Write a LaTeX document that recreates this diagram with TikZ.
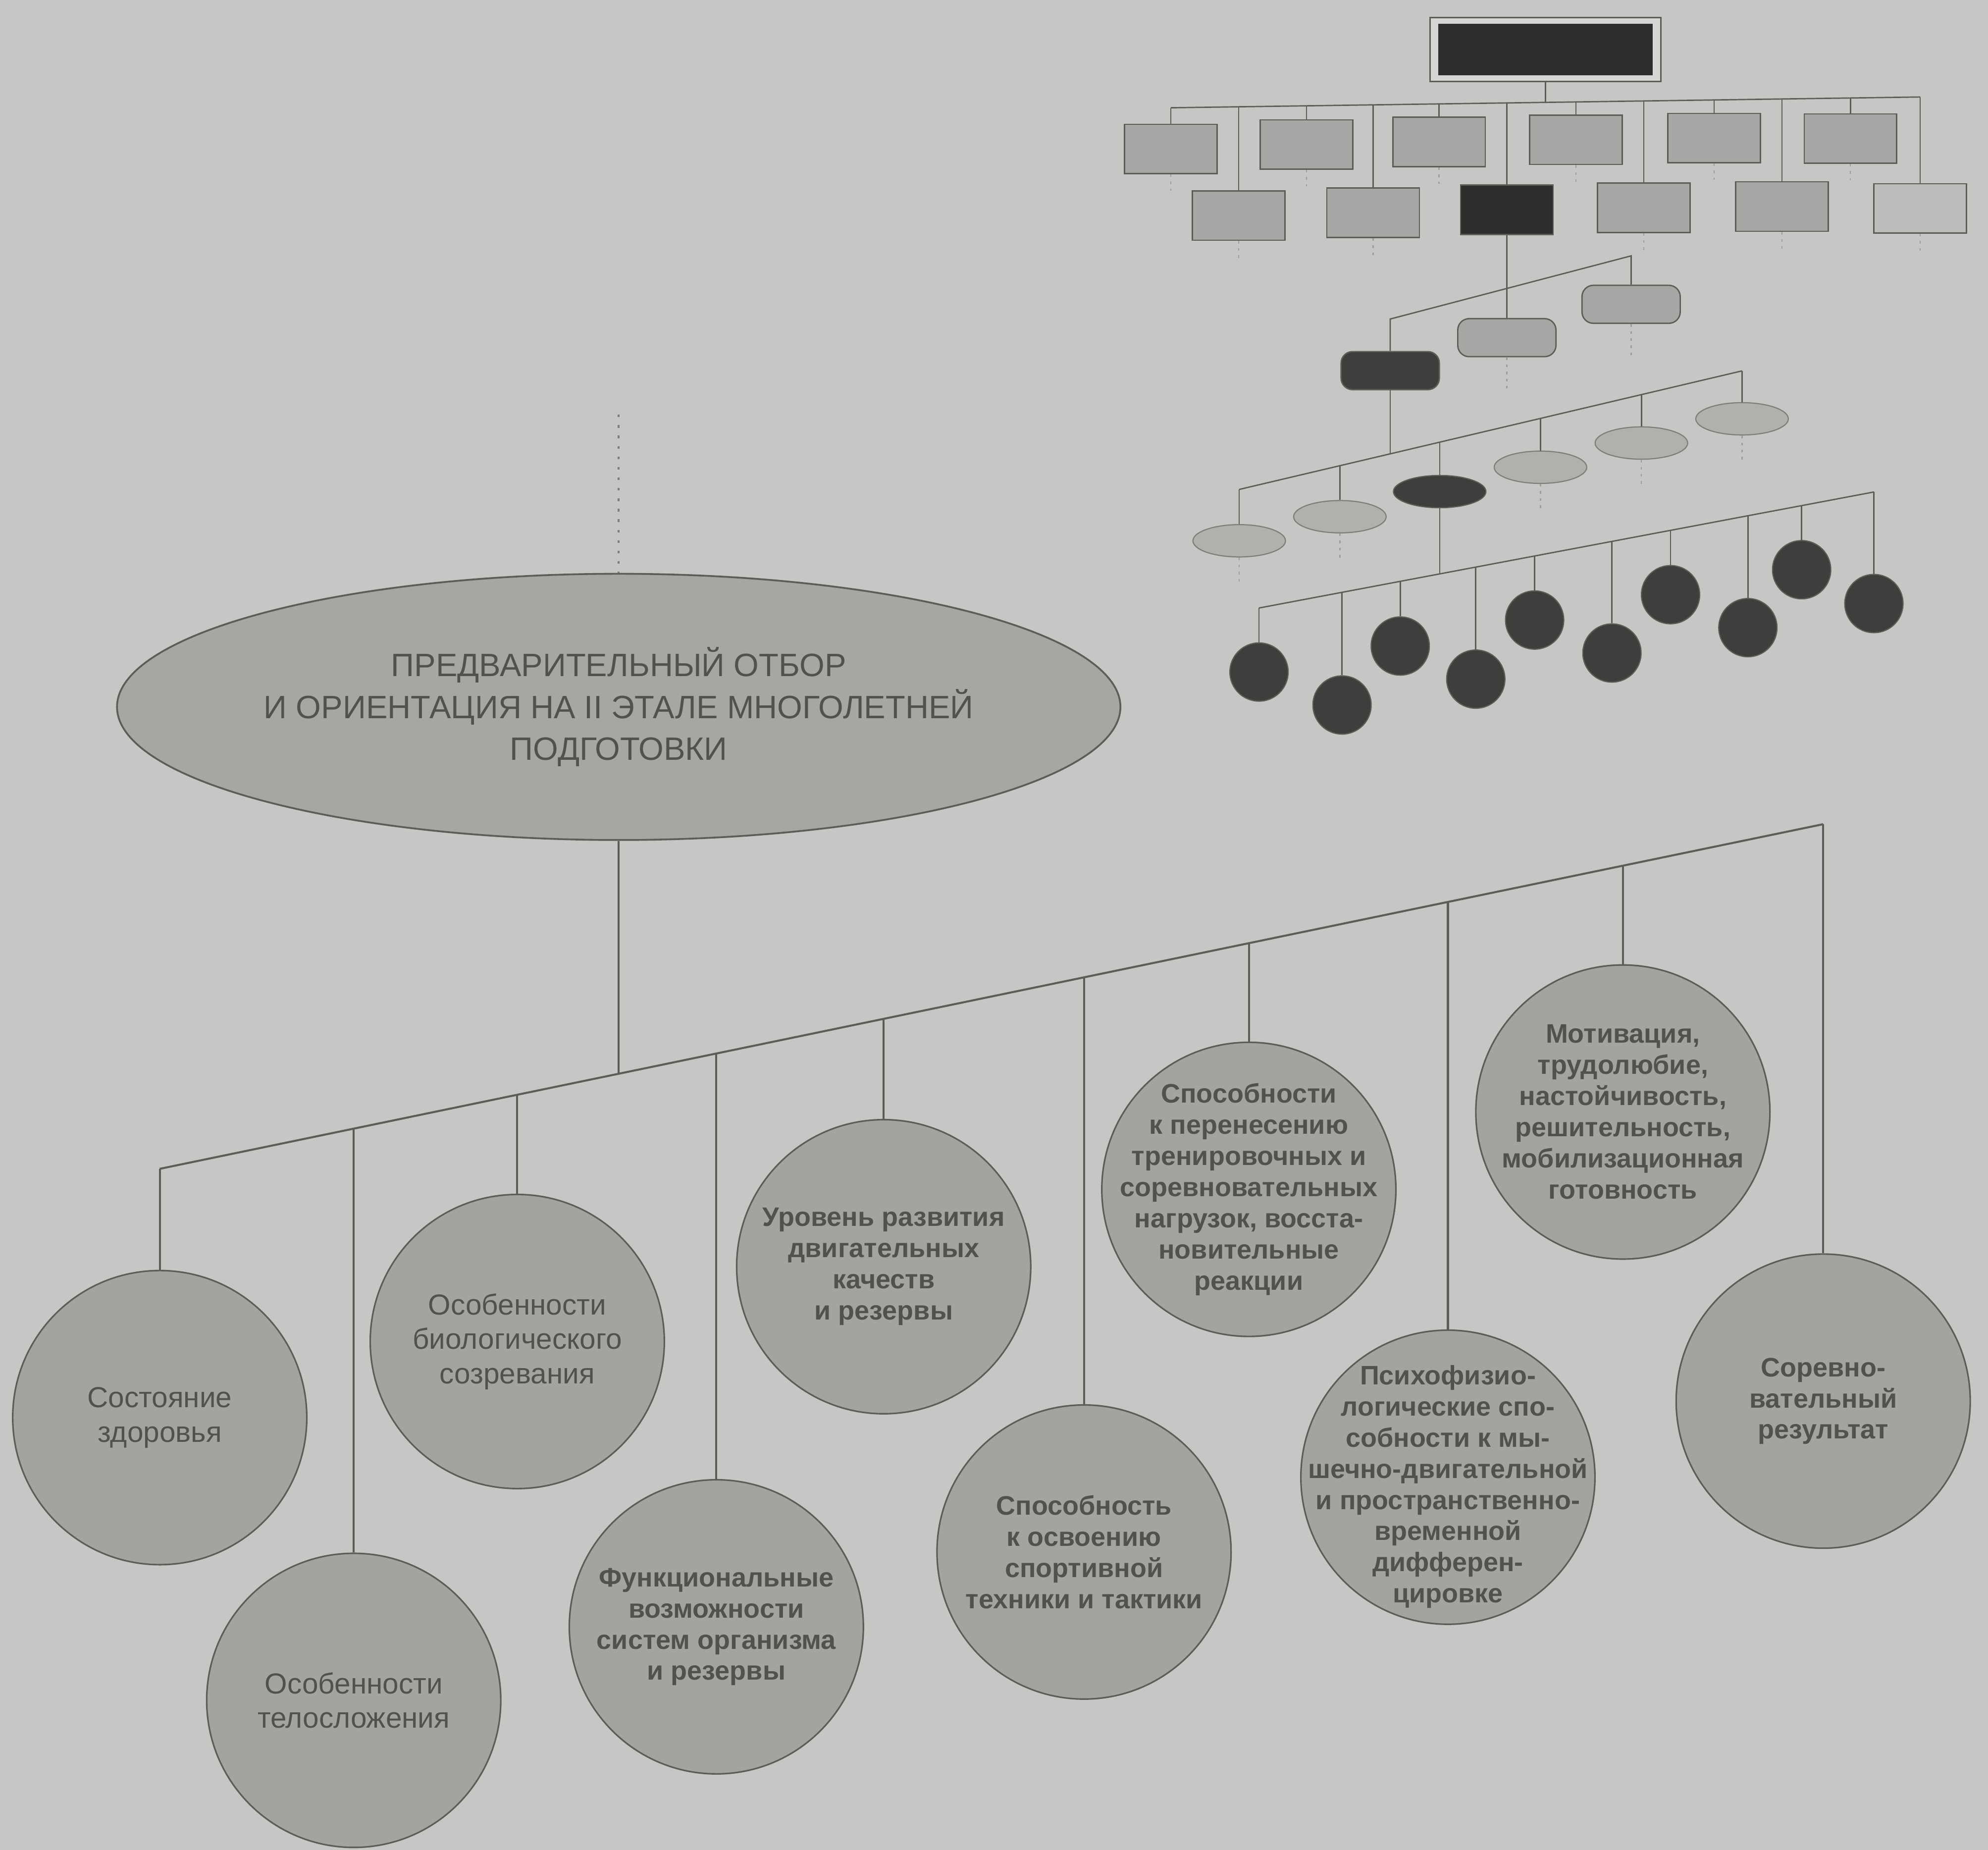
\documentclass[tikz,border=0pt]{standalone}
\usepackage{fontspec}
\setmainfont{Liberation Sans}
\usetikzlibrary{shapes.geometric}
\definecolor{bgc}{HTML}{C6C7C4}
\definecolor{edgec}{HTML}{5C5C58}
\definecolor{txt}{HTML}{52524D}
\definecolor{circf}{HTML}{A3A3A0}
\definecolor{mainf}{HTML}{A6A6A2}
\definecolor{boxf}{HTML}{A6A6A4}
\definecolor{ellf}{HTML}{B0B0AD}
\definecolor{darkf}{HTML}{2E2E2D}
\definecolor{darkf2}{HTML}{3E3E3C}
\definecolor{framef}{HTML}{D6D6D4}
\begin{document}
\begin{tikzpicture}[x=0.02cm,y=-0.02cm,
  conn/.style={draw=edgec,line width=0.9pt},
  tconn/.style={draw=edgec,line width=0.6pt},
  stub/.style={draw=edgec!60,line width=0.5pt,dash pattern=on 1.2pt off 2pt},
  dline/.style={draw=edgec!80,line width=0.8pt,dash pattern=on 1.2pt off 3.5pt},
  bigc/.style={circle,draw=edgec,line width=0.7pt,fill=circf,minimum size=4.64cm,inner sep=0pt},
  ctb/.style={align=center,text=txt,inner sep=0pt,font=\fontsize{12}{14}\selectfont\bfseries},
  ctr/.style={ctb,font=\fontsize{13}{15.5}\selectfont},
  mainell/.style={ellipse,draw=edgec,line width=0.8pt,fill=mainf,minimum width=13.04cm,minimum height=4.2cm,inner sep=0pt,align=center,text=txt,font=\fontsize{14.5}{18.8}\selectfont},
  rbox/.style={rectangle,draw=edgec,line width=0.6pt,fill=boxf,minimum width=1.46cm,minimum height=0.78cm,inner sep=0pt},
  dbox/.style={rbox,fill=darkf},
  rrl/.style={rectangle,rounded corners=0.18cm,draw=edgec,line width=0.6pt,fill=boxf,minimum width=1.55cm,minimum height=0.6cm,inner sep=0pt},
  rrd/.style={rrl,fill=darkf2},
  ell/.style={ellipse,draw=edgec!80,line width=0.5pt,fill=ellf,minimum width=1.46cm,minimum height=0.51cm,inner sep=0pt},
  elld/.style={ell,draw=edgec,fill=darkf2},
  dkc/.style={circle,draw=edgec,line width=0.5pt,fill=darkf2,minimum size=0.92cm,inner sep=0pt}]
\fill[bgc] (0,0) rectangle (1568,1459);
\useasboundingbox (0,0) rectangle (1568,1459);

% ---------------- top-right hierarchy ----------------
\node[rectangle,draw=edgec,line width=0.7pt,fill=framef,minimum width=3.64cm,minimum height=1.01cm,inner sep=0pt] (top) at (1219,39) {};
\node[rectangle,fill=darkf,minimum width=3.38cm,minimum height=0.81cm,inner sep=0pt] (topin) at (1219,39) {};

\coordinate (ba1) at (923.5,85);
\coordinate (ba12) at (1514.5,76.5);
\coordinate (bat) at (1219,80.75);
\draw[tconn] (ba1) -- (ba12);
\draw[tconn] (top) -- (bat);

\node[rbox] (r11) at (923.5,117.5) {};
\node[rbox] (r12) at (1030.5,114) {};
\node[rbox] (r13) at (1135,112) {};
\node[rbox] (r14) at (1243,110.2) {};
\node[rbox] (r15) at (1352,108.9) {};
\node[rbox] (r16) at (1459.5,109.3) {};
\node[rbox] (r21) at (977,170) {};
\node[rbox] (r22) at (1083,167.8) {};
\node[dbox] (r23) at (1188.5,165.4) {};
\node[rbox] (r24) at (1296.5,163.8) {};
\node[rbox] (r25) at (1405.5,162.9) {};
\node[rbox,fill=boxf!75!white] (r26) at (1514.5,164.4) {};

\coordinate (ba2) at (977,84.23);
\coordinate (ba3) at (1030.5,83.46);
\coordinate (ba4) at (1083,82.71);
\coordinate (ba5) at (1135,81.96);
\coordinate (ba6) at (1188.5,81.19);
\coordinate (ba7) at (1243,80.41);
\coordinate (ba8) at (1296.5,79.64);
\coordinate (ba9) at (1352,78.84);
\coordinate (ba10) at (1405.5,78.07);
\coordinate (ba11) at (1459.5,77.29);
\draw[tconn] (ba1) -- (r11);
\draw[tconn] (ba2) -- (r21);
\draw[tconn] (ba3) -- (r12);
\draw[tconn] (ba4) -- (r22);
\draw[tconn] (ba5) -- (r13);
\draw[tconn] (ba6) -- (r23);
\draw[tconn] (ba7) -- (r14);
\draw[tconn] (ba8) -- (r24);
\draw[tconn] (ba9) -- (r15);
\draw[tconn] (ba10) -- (r25);
\draw[tconn] (ba11) -- (r16);
\draw[tconn] (ba12) -- (r26);

\foreach \n in {r11,r12,r13,r14,r15,r16} {\draw[stub] (\n.south) -- ++(0,13);}
\foreach \n in {r21,r22,r24,r25,r26} {\draw[stub] (\n.south) -- ++(0,15);}

% rounded boxes
\node[rrd] (rb1) at (1096.5,292.3) {};
\node[rrl] (rb2) at (1188.5,266.3) {};
\node[rrl] (rb3) at (1286.5,240) {};
\coordinate (ka) at (1096.5,251.6);
\coordinate (kb) at (1286.5,201.8);
\draw[tconn] (rb1) -- (ka) -- (kb) -- (rb3);
\draw[tconn] (r23) -- (rb2);
\draw[stub] (rb2.south) -- ++(0,26);
\draw[stub] (rb3.south) -- ++(0,26);

% ellipses
\node[ell] (e1) at (977.4,426.5) {};
\node[ell] (e2) at (1056.8,407.5) {};
\node[elld] (e3) at (1135.5,387.7) {};
\node[ell] (e4) at (1215,368.5) {};
\node[ell] (e5) at (1294.6,349.4) {};
\node[ell] (e6) at (1374,330.3) {};
\coordinate (la) at (977.4,386);
\coordinate (l2) at (1056.8,367.3);
\coordinate (lr) at (1096.5,358);
\coordinate (l3) at (1135.5,348.8);
\coordinate (l4) at (1215,330);
\coordinate (l5) at (1294.6,311.2);
\coordinate (lb) at (1374,292.5);
\draw[tconn] (la) -- (lb);
\draw[tconn] (rb1) -- (lr);
\draw[tconn] (la) -- (e1);
\draw[tconn] (l2) -- (e2);
\draw[tconn] (l3) -- (e3);
\draw[tconn] (l4) -- (e4);
\draw[tconn] (l5) -- (e5);
\draw[tconn] (lb) -- (e6);
\foreach \n in {e1,e2,e4,e5,e6} {\draw[stub] (\n.south) -- ++(0,20);}

% dark circles
\node[dkc] (k1) at (993,530) {};
\node[dkc] (k2) at (1058.5,556) {};
\node[dkc] (k3) at (1104.4,509.5) {};
\node[dkc] (k4) at (1164,535.6) {};
\node[dkc] (k5) at (1210.4,489) {};
\node[dkc] (k6) at (1271.4,515) {};
\node[dkc] (k7) at (1317.6,469) {};
\node[dkc] (k8) at (1378.6,495) {};
\node[dkc] (k9) at (1421,449.3) {};
\node[dkc] (k10) at (1478,476) {};
\coordinate (m1) at (993,479.5);
\coordinate (m2) at (1058.5,467.1);
\coordinate (m3) at (1104.4,458.4);
\coordinate (me) at (1135.5,452.6);
\coordinate (m4) at (1164,447.2);
\coordinate (m5) at (1210.4,438.5);
\coordinate (m6) at (1271.4,427.0);
\coordinate (m7) at (1317.6,418.2);
\coordinate (m8) at (1378.6,406.7);
\coordinate (m9) at (1421,398.7);
\coordinate (m10) at (1478,388.0);
\draw[tconn] (m1) -- (m10);
\draw[tconn] (e3) -- (me);
\foreach \i in {1,...,10} {\draw[tconn] (m\i) -- (k\i);}

% ---------------- main diagram ----------------
\coordinate (dtop) at (488,327);
\node[mainell] (main) at (488,557.5) {ПРЕДВАРИТЕЛЬНЫЙ ОТБОР\\И ОРИЕНТАЦИЯ НА II ЭТАЛЕ МНОГОЛЕТНЕЙ\\ПОДГОТОВКИ};
\draw[dline] (dtop) -- (main);

\node[bigc] (c1) at (126,1118) {};
\node[bigc] (c2) at (279,1341) {};
\node[bigc] (c3) at (408,1058) {};
\node[bigc] (c4) at (565,1283) {};
\node[bigc] (c5) at (697,999) {};
\node[bigc] (c6) at (855,1224) {};
\node[bigc] (c7) at (985,938) {};
\node[bigc] (c8) at (1142,1165) {};
\node[bigc] (c9) at (1280,877) {};
\node[bigc] (c10) at (1438,1105) {};

\node[ctr] (t1) at (c1) {Состояние\\здоровья};
\node[ctr] (t2) at (c2) {Особенности\\телосложения};
\node[ctr] (t3) at (c3) {Особенности\\биологического\\созревания};
\node[ctb] (t4) at (c4) {Функциональные\\возможности\\систем организма\\и резервы};
\node[ctb] (t5) at (c5) {Уровень развития\\двигательных\\качеств\\и резервы};
\node[ctb] (t6) at (c6) {Способность\\к освоению\\спортивной\\техники и тактики};
\node[ctb] (t7) at (c7) {Способности\\к перенесению\\тренировочных и\\соревновательных\\нагрузок, восста-\\новительные\\реакции};
\node[ctb] (t8) at ([yshift=-0.15cm]c8.center) {Психофизио-\\логические спо-\\собности к мы-\\шечно-двигательной\\и пространственно-\\временной\\дифферен-\\цировке};
\node[ctb] (t9) at (c9) {Мотивация,\\трудолюбие,\\настойчивость,\\решительность,\\мобилизационная\\готовность};
\node[ctb] (t10) at (c10) {Соревно-\\вательный\\результат};

\coordinate (b1) at (126,921.8);
\coordinate (b2) at (279,890.1);
\coordinate (b3) at (408,863.4);
\coordinate (b4) at (565,830.8);
\coordinate (b5) at (697,803.5);
\coordinate (b6) at (855,770.7);
\coordinate (b7) at (985,743.8);
\coordinate (b8) at (1142,711.3);
\coordinate (b9) at (1280,682.7);
\coordinate (b10) at (1438,650);
\coordinate (bm) at (488,846.8);
\draw[conn] (b1) -- (b10);
\draw[conn] (main) -- (bm);
\foreach \i in {1,...,10} {\draw[conn] (b\i) -- (c\i);}
\end{tikzpicture}
\end{document}
